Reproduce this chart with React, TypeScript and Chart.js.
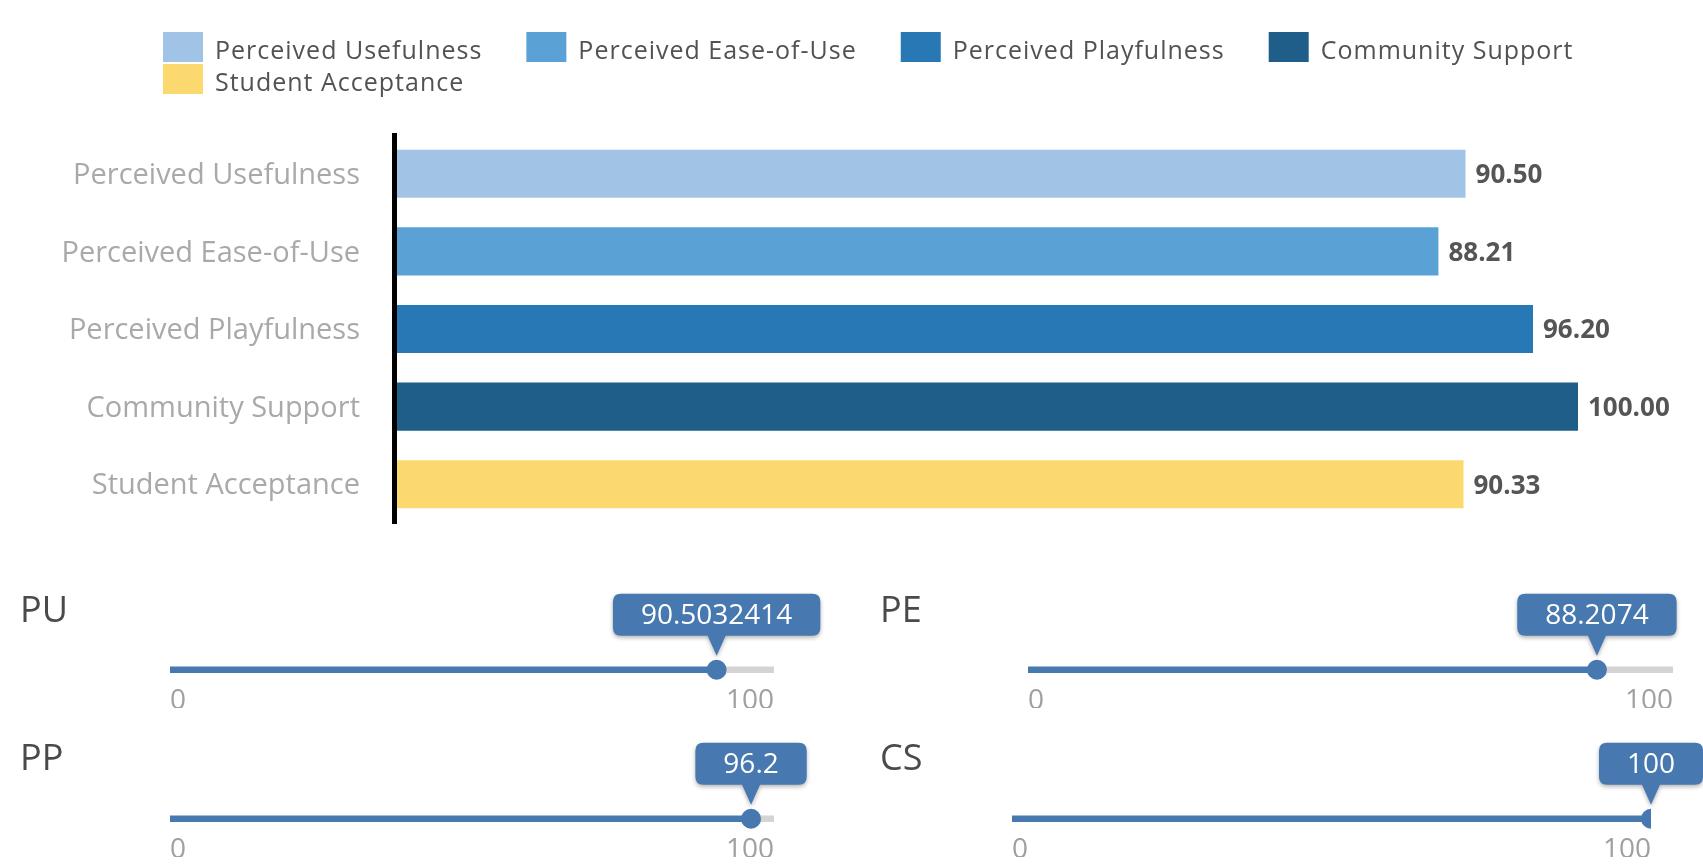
import React, { useEffect, useRef } from 'react';
import { Chart, registerables } from 'chart.js';

Chart.register(...registerables);

// ---------- data ----------
const categories = [
  'Perceived Usefulness',
  'Perceived Ease-of-Use',
  'Perceived Playfulness',
  'Community Support',
  'Student Acceptance',
];
const scores = [90.5, 88.21, 96.2, 100.0, 90.33];
const barColors = ['#a0c3e6', '#5aa1d5', '#2778b4', '#1f5e89', '#fbd96e'];

const sliderNames = ['PU', 'PE', 'PP', 'CS'];
const sliderValues = [90.5032414, 88.2074, 96.2, 100];
const sliderMin = 0;
const sliderMax = 100;

// ---------- layout / style ----------
const FONT = '"Open Sans", "Liberation Sans", Arial, sans-serif';
const SLIDER_BLUE = '#4779b0';
const SLIDER_GREY = '#d4d4d4';

const sliderLayout = [
  { left: 0, top: 560, width: 850, height: 160, padL: 170, padR: 76, padB: 12, nameX: 20, nameY: 52 },
  { left: 850, top: 560, width: 853, height: 160, padL: 178, padR: 30, padB: 12, nameX: 30, nameY: 52 },
  { left: 0, top: 709, width: 850, height: 155, padL: 170, padR: 76, padB: 7, nameX: 20, nameY: 51 },
  { left: 850, top: 709, width: 853, height: 155, padL: 162, padR: 52, padB: 7, nameX: 30, nameY: 51 },
];

// ---------- plugins ----------
const customLegend = {
  id: 'customLegend',
  afterDraw(chart: any, _args: any, o: any) {
    const { ctx } = chart;
    const labels: string[] = chart.data.labels;
    const colors: string[] = chart.data.datasets[0].backgroundColor;
    ctx.save();
    ctx.font = `${o.fontSize}px ${FONT}`;
    try { (ctx as any).letterSpacing = o.letterSpacing; } catch (e) {}
    ctx.textBaseline = 'middle';
    ctx.textAlign = 'left';
    let x = o.left;
    let y = o.top;
    labels.forEach((label, i) => {
      const tw = ctx.measureText(label).width;
      const w = o.boxW + o.textGap + tw;
      if (x > o.left && x + w > chart.width - o.rightLimit) {
        x = o.left;
        y += o.rowH;
      }
      ctx.fillStyle = colors[i];
      ctx.fillRect(x, y, o.boxW, o.boxH);
      ctx.fillStyle = o.color;
      ctx.fillText(label, x + o.boxW + o.textGap, y + o.boxH / 2 + 5);
      x += w + o.itemGap;
    });
    ctx.restore();
  },
};

const valueLabels = {
  id: 'valueLabels',
  afterDatasetsDraw(chart: any) {
    const { ctx } = chart;
    const meta = chart.getDatasetMeta(0);
    const data: number[] = chart.data.datasets[0].data;
    ctx.save();
    ctx.font = `bold 26px ${FONT}`;
    ctx.fillStyle = '#555555';
    ctx.textBaseline = 'middle';
    ctx.textAlign = 'left';
    meta.data.forEach((bar: any, i: number) => {
      ctx.fillText(data[i].toFixed(2), bar.x + 10, bar.y + 2);
    });
    ctx.restore();
  },
};

const sliderDecor = {
  id: 'sliderDecor',
  afterDraw(chart: any, _args: any, o: any) {
    const { ctx } = chart;
    const pt = chart.getDatasetMeta(0).data[0];
    const v = chart.data.datasets[0].data[0];
    const text = String(v);
    ctx.save();
    // slider name
    ctx.font = `${o.nameSize}px ${FONT}`;
    ctx.fillStyle = '#4a4a4a';
    ctx.textBaseline = 'middle';
    ctx.textAlign = 'left';
    ctx.fillText(chart.data.labels[0], o.nameX, o.nameY);

    // value bubble
    ctx.font = `${o.bubbleSize}px ${FONT}`;
    const tw = ctx.measureText(text).width;
    const w = tw + 2 * o.padX;
    const h = 42;
    const bottom = pt.y - 34;
    const top = bottom - h;
    const l = pt.x - w / 2;
    const r = pt.x + w / 2;
    const rad = 8;
    ctx.beginPath();
    ctx.moveTo(l + rad, top);
    ctx.lineTo(r - rad, top);
    ctx.quadraticCurveTo(r, top, r, top + rad);
    ctx.lineTo(r, bottom - rad);
    ctx.quadraticCurveTo(r, bottom, r - rad, bottom);
    ctx.lineTo(pt.x + 9, bottom);
    ctx.lineTo(pt.x, pt.y - 14);
    ctx.lineTo(pt.x - 9, bottom);
    ctx.lineTo(l + rad, bottom);
    ctx.quadraticCurveTo(l, bottom, l, bottom - rad);
    ctx.lineTo(l, top + rad);
    ctx.quadraticCurveTo(l, top, l + rad, top);
    ctx.closePath();
    ctx.shadowColor = 'rgba(0,0,0,0.3)';
    ctx.shadowBlur = 4;
    ctx.shadowOffsetY = 2;
    ctx.fillStyle = SLIDER_BLUE;
    ctx.fill();
    ctx.shadowColor = 'transparent';
    ctx.fillStyle = '#ffffff';
    ctx.textAlign = 'center';
    ctx.fillText(text, pt.x, top + h / 2 + 1);
    ctx.restore();
  },
};

// ---------- components ----------
function BarChart() {
  const ref = useRef<HTMLCanvasElement>(null);
  useEffect(() => {
    if (!ref.current) return;
    const chart = new Chart(ref.current, {
      type: 'bar',
      data: {
        labels: categories,
        datasets: [
          {
            data: scores,
            backgroundColor: barColors,
            categoryPercentage: 1,
            barPercentage: 0.62,
          },
        ],
      },
      options: {
        indexAxis: 'y',
        responsive: false,
        animation: false,
        layout: { padding: { top: 135, bottom: 52, left: 0, right: 125 } },
        plugins: {
          legend: { display: false },
          tooltip: { enabled: false },
          customLegend: {
            left: 163,
            top: 32,
            boxW: 40,
            boxH: 30,
            textGap: 12,
            itemGap: 44,
            rowH: 32,
            rightLimit: 0,
            fontSize: 25,
            letterSpacing: '1px',
            color: '#525252',
          },
        } as any,
        scales: {
          x: { display: false, min: 0, max: 100 },
          y: {
            grid: { display: false, drawTicks: false },
            border: { display: true, color: '#000000', width: 5, z: 1 },
            ticks: {
              color: '#a9a9a9',
              font: { family: FONT, size: 29 },
              padding: 34,
              labelOffset: 2,
            },
            afterFit(axis: any) {
              axis.width = 394;
            },
          },
        },
      },
      plugins: [customLegend, valueLabels],
    } as any);
    return () => chart.destroy();
  }, []);
  return (
    <canvas
      ref={ref}
      width={1703}
      height={575}
      style={{ position: 'absolute', left: 0, top: 0 }}
    />
  );
}

function Slider({ index }: { index: number }) {
  const ref = useRef<HTMLCanvasElement>(null);
  const L = sliderLayout[index];
  useEffect(() => {
    if (!ref.current) return;
    const value = sliderValues[index];
    const chart = new Chart(ref.current, {
      type: 'bar',
      data: {
        labels: [sliderNames[index]],
        datasets: [
          {
            type: 'line',
            data: [value],
            showLine: false,
            pointRadius: 10,
            pointHoverRadius: 10,
            pointBackgroundColor: SLIDER_BLUE,
            pointBorderColor: SLIDER_BLUE,
            pointBorderWidth: 0,
            order: 0,
          },
          {
            data: [value],
            backgroundColor: SLIDER_BLUE,
            barThickness: 6,
            grouped: false,
            order: 1,
          },
          {
            data: [[value, sliderMax]],
            backgroundColor: SLIDER_GREY,
            barThickness: 6,
            grouped: false,
            order: 2,
          },
        ],
      },
      options: {
        indexAxis: 'y',
        responsive: false,
        animation: false,
        layout: { padding: { top: 97, left: L.padL, right: L.padR, bottom: L.padB } },
        plugins: {
          legend: { display: false },
          tooltip: { enabled: false },
          sliderDecor: {
            nameX: L.nameX,
            nameY: L.nameY,
            nameSize: 36,
            bubbleSize: 28,
            padX: 28,
          },
        } as any,
        scales: {
          x: {
            min: sliderMin,
            max: sliderMax,
            grid: { display: false, drawTicks: false },
            border: { display: false },
            ticks: {
              stepSize: sliderMax - sliderMin,
              align: 'inner',
              padding: 5,
              color: '#a0a0a0',
              font: { family: FONT, size: 28, lineHeight: 1 },
              maxRotation: 0,
              autoSkip: false,
            },
          },
          y: { display: false },
        },
      },
      plugins: [sliderDecor],
    } as any);
    return () => chart.destroy();
  }, [index]);
  return (
    <canvas
      ref={ref}
      width={L.width}
      height={L.height}
      style={{ position: 'absolute', left: L.left, top: L.top }}
    />
  );
}

export default function App() {
  return (
    <div
      style={{
        position: 'relative',
        width: 1703,
        height: 864,
        overflow: 'hidden',
        background: '#ffffff',
      }}
    >
      <style>{'html,body{margin:0;padding:0;overflow:hidden;background:#fff}'}</style>
      <BarChart />
      {sliderNames.map((_, i) => (
        <Slider key={i} index={i} />
      ))}
    </div>
  );
}
